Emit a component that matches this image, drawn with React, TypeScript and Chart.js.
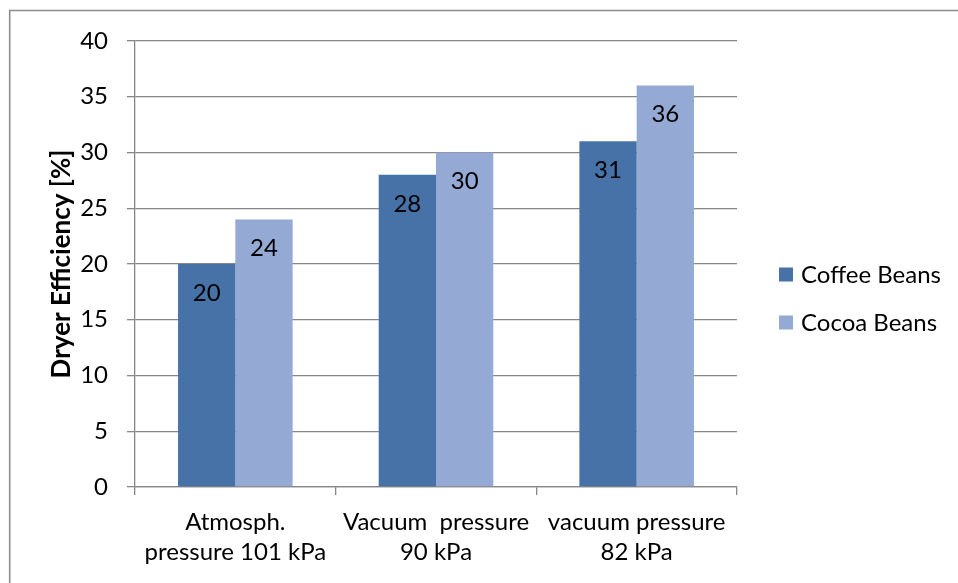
import React, { useEffect, useRef } from "react";
import { Chart, registerables } from "chart.js";

Chart.register(...registerables);

const categories: string[][] = [
  ["Atmosph.", "pressure 101 kPa"],
  ["Vacuum  pressure", "90 kPa"],
  ["vacuum pressure", "82 kPa"],
];
const seriesNames = ["Coffee Beans", "Cocoa Beans"];
const coffeeValues = [20, 28, 31];
const cocoaValues = [24, 30, 36];
const seriesColors = ["#4672A8", "#94A9D3"];
const yMin = 0;
const yMax = 40;
const yStep = 5;
const yTitle = "Dryer Efficiency [%]";

const FONT = "Lato";
const GRAY = "#868686";
const FS = 24;

const framePlugin = {
  id: "frame",
  beforeDraw(chart: any) {
    const { ctx, width, height } = chart;
    ctx.save();
    ctx.fillStyle = "#ffffff";
    ctx.fillRect(0, 0, width, height);
    ctx.strokeStyle = "#8c8c8c";
    ctx.lineWidth = 1.6;
    ctx.beginPath();
    ctx.moveTo(9.7, height + 2);
    ctx.lineTo(9.7, 10.5);
    ctx.lineTo(width + 2, 10.5);
    ctx.stroke();
    ctx.restore();
  },
};

const labelPlugin = {
  id: "barLabels",
  afterDatasetsDraw(chart: any) {
    const { ctx } = chart;
    ctx.save();
    ctx.font = `${FS}px ${FONT}`;
    ctx.fillStyle = "#000";
    ctx.textAlign = "center";
    ctx.textBaseline = "middle";
    chart.data.datasets.forEach((ds: any, i: number) => {
      const meta = chart.getDatasetMeta(i);
      meta.data.forEach((bar: any, j: number) => {
        ctx.fillText(String(ds.data[j]), bar.x, bar.y + 29);
      });
    });
    ctx.restore();
  },
};

const legendPlugin = {
  id: "sideLegend",
  afterDraw(chart: any) {
    const { ctx, chartArea } = chart;
    ctx.save();
    ctx.font = `${FS}px ${FONT}`;
    ctx.textBaseline = "middle";
    ctx.textAlign = "left";
    const x0 = chartArea.right + 42;
    const cy = chart.height / 2 + 7;
    const gap = 48;
    const n = chart.data.datasets.length;
    chart.data.datasets.forEach((ds: any, i: number) => {
      const y = cy + (i - (n - 1) / 2) * gap;
      ctx.fillStyle = ds.backgroundColor;
      ctx.fillRect(x0, y - 7, 14, 14);
      ctx.fillStyle = "#000";
      ctx.fillText(ds.label, x0 + 22, y + 1);
    });
    ctx.restore();
  },
};

export default function App() {
  const ref = useRef<HTMLCanvasElement | null>(null);

  useEffect(() => {
    if (!ref.current) return;
    document.body.style.margin = "0";
    document.body.style.overflow = "hidden";
    const chart = new Chart(ref.current, {
      type: "bar",
      data: {
        labels: categories,
        datasets: [
          {
            label: seriesNames[0],
            data: coffeeValues,
            backgroundColor: seriesColors[0],
            categoryPercentage: 0.571,
            barPercentage: 1,
          },
          {
            label: seriesNames[1],
            data: cocoaValues,
            backgroundColor: seriesColors[1],
            categoryPercentage: 0.571,
            barPercentage: 1,
          },
        ],
      },
      options: {
        animation: false,
        responsive: true,
        maintainAspectRatio: false,
        layout: { padding: { left: 0, top: 41, right: 221, bottom: 0 } },
        plugins: {
          legend: { display: false },
          tooltip: { enabled: false },
        },
        scales: {
          x: {
            afterFit(scale: any) {
              scale.height = 96;
            },
            grid: {
              offset: true,
              drawOnChartArea: false,
              drawTicks: true,
              tickLength: 8,
              color: GRAY,
              lineWidth: 1.3,
            },
            border: { display: true, color: GRAY, width: 1.3 },
            ticks: {
              color: "#000",
              font: { family: FONT, size: FS, lineHeight: 1.25 },
              padding: 12,
              maxRotation: 0,
              autoSkip: false,
            },
          },
          y: {
            min: yMin,
            max: yMax,
            afterFit(scale: any) {
              scale.width = 135;
            },
            ticks: {
              stepSize: yStep,
              color: "#000",
              font: { family: FONT, size: FS },
              padding: 19,
            },
            grid: {
              color: GRAY,
              lineWidth: 1.3,
              tickLength: 8,
              drawTicks: true,
            },
            border: { display: true, color: GRAY, width: 1.3 },
            title: {
              display: true,
              text: yTitle,
              color: "#000",
              font: { family: FONT, size: 26, weight: "bold" },
              padding: { top: 46, bottom: 0 },
            },
          },
        },
      },
      plugins: [framePlugin, labelPlugin, legendPlugin],
    });
    return () => chart.destroy();
  }, []);

  return (
    <div style={{ position: "fixed", left: 0, top: 0, width: 958, height: 583 }}>
      <canvas ref={ref} />
    </div>
  );
}
